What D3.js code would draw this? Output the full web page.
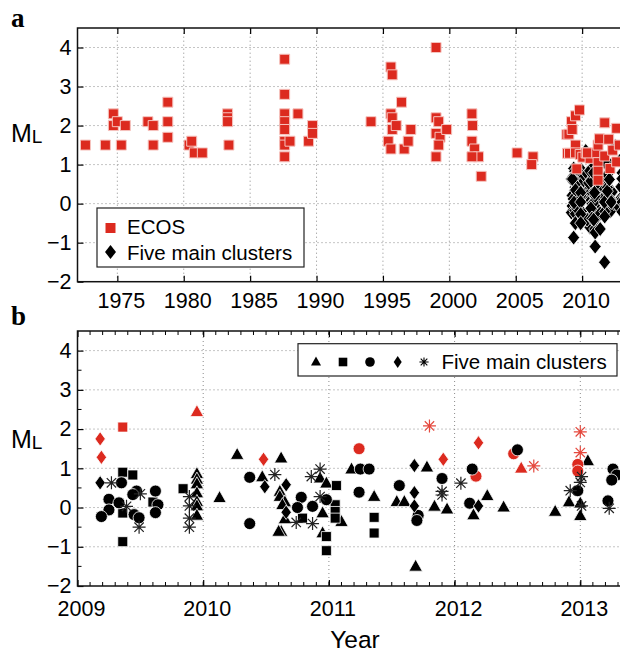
<!DOCTYPE html>
<html><head><meta charset="utf-8">
<script src="https://cdn.jsdelivr.net/npm/d3@7"></script>
<style>body{margin:0;background:#fff}svg{display:block}text{font-family:"Liberation Sans",Arial,Helvetica,sans-serif;fill:#000}</style>
</head><body>
<svg id="c" width="620" height="653"></svg>
<script>
// ---------- DATA ----------
// Panel a: ECOS catalogue events [year, ML]
const ecos = [
[1972.6,1.5],[1974.1,1.5],[1974.7,2.3],[1974.7,2.0],[1975.0,2.1],[1975.3,1.5],[1975.6,2.0],
[1977.3,2.1],[1977.7,2.0],[1977.7,1.5],[1978.8,2.6],[1978.8,2.1],[1978.8,1.7],
[1980.4,1.5],[1980.6,1.6],[1980.8,1.3],[1981.4,1.3],[1983.3,2.3],[1983.3,2.2],[1983.3,2.1],[1983.4,1.5],
[1987.6,3.7],[1987.6,2.8],[1987.6,2.3],[1987.6,2.1],[1987.6,1.9],[1987.6,1.6],[1987.6,1.5],[1987.6,1.2],
[1988.0,1.6],[1988.6,2.3],[1989.4,1.6],[1989.7,2.0],[1989.7,1.8],
[1994.1,2.1],[1995.6,3.5],[1995.7,3.3],[1995.6,2.3],[1995.7,2.2],[1995.7,1.9],[1996.0,2.0],[1996.4,2.6],
[1995.4,1.6],[1995.6,1.4],[1996.6,1.4],[1996.9,1.6],[1997.1,1.9],
[1999.0,4.0],[1999.0,2.2],[1999.2,2.1],[1999.0,1.8],[1999.3,1.7],[1999.2,1.5],[1999.0,1.2],[1999.8,1.9],
[2001.7,2.3],[2001.75,2.0],[2001.7,1.6],[2001.9,1.4],[2002.2,1.2],[2001.7,1.2],[2002.4,0.7],
[2005.1,1.3],[2006.3,1.2],[2006.2,1.0],
[2008.85,1.77],[2008.9,1.29],[2009.0,1.78],[2009.2,2.1],[2009.25,1.9],[2009.5,2.25],[2009.8,2.4],
[2009.5,1.5],[2009.05,1.29],[2009.5,1.3],[2009.6,0.89],[2009.85,1.26],[2010.05,1.19],[2010.3,1.3],
[2010.6,1.16],[2010.4,1.3],[2011.1,1.3],[2011.2,1.5],[2011.2,1.05],[2011.2,0.83],[2011.2,0.6],
[2011.3,1.66],[2012.0,1.65],[2011.7,2.07],[2011.7,1.22],[2012.3,1.37],[2012.1,0.9],[2012.6,1.07],[2012.6,1.93],[2012.8,1.5]
];
// Panel b: five main clusters [year, ML, inECOS(1=red)]
const triangles = [
[2009.95,2.44,1],[2009.95,0.86,0],[2009.95,0.72,0],[2009.95,0.6,0],[2009.95,0.37,0],[2009.95,0.15,0],[2009.95,0.04,0],[2009.95,-0.2,0],
[2010.13,0.25,0],[2010.27,1.35,0],[2010.62,1.26,0],[2010.47,0.78,0],
[2010.61,0.41,0],[2010.61,0.28,0],[2010.65,0.14,0],[2010.63,0.07,0],[2010.65,-0.29,0],[2010.62,-0.61,0],[2010.6,-0.61,0],
[2010.93,0.75,0],[2010.98,0.62,0],[2010.95,-0.14,0],[2011.1,-0.36,0],[2010.95,-0.65,0],
[2011.18,0.98,0],[2011.36,0.28,0],[2011.54,0.15,0],[2011.6,0.15,0],[2011.78,1.03,0],[2011.69,-1.5,0],
[2011.84,0.03,0],[2011.94,-0.04,0],[2012.15,-0.19,0],[2012.26,0.3,0],[2012.39,0.01,0],[2012.53,1.0,1],
[2012.8,-0.1,0],[2012.91,0.14,0],[2013.06,1.19,0],[2013.0,0.11,0],[2013.0,-0.21,0]
];
const squares = [
[2009.36,2.05,1],[2009.36,0.9,0],[2009.44,0.83,0],[2009.6,0.14,0],[2009.36,-0.14,0],[2009.36,-0.87,0],[2009.84,0.48,0],
[2010.79,-0.27,0],[2011.06,0.56,0],[2011.05,0.07,0],[2011.05,-0.1,0],[2011.05,-0.27,0],[2010.98,-0.74,0],[2010.98,-1.1,0],
[2011.36,-0.25,0],[2011.36,-0.65,0]
];
const circles = [
[2009.35,0.63,0],[2009.47,0.42,0],[2009.44,0.33,0],[2009.62,0.42,0],[2009.25,0.21,0],[2009.33,0.12,0],[2009.64,0.07,0],
[2009.25,-0.06,0],[2009.19,-0.23,0],[2009.45,-0.18,0],[2009.49,-0.26,0],[2009.62,-0.13,0],
[2010.37,0.77,0],[2010.37,-0.41,0],[2010.78,0.26,0],[2010.75,0.0,0],[2010.87,0.03,0],[2010.98,0.2,0],
[2011.24,1.5,1],[2011.25,0.98,0],[2011.32,0.98,0],[2011.24,0.39,0],[2011.56,0.56,0],[2011.71,-0.2,0],[2011.7,-0.33,0],
[2011.9,0.74,0],[2012.17,0.8,1],[2012.14,0.98,0],[2012.12,0.11,0],[2012.47,1.37,1],[2012.5,1.47,0],
[2012.98,1.1,1],[2012.98,0.93,1],[2012.98,0.43,0],[2013.26,0.98,0],[2013.29,0.83,0],[2013.25,0.7,0],[2013.22,0.17,0]
];
const diamonds = [
[2009.18,1.75,1],[2009.19,1.28,1],[2009.18,0.63,0],[2010.48,1.23,1],[2010.49,0.53,0],[2010.66,0.58,0],[2010.66,-0.12,0],
[2011.68,1.07,0],[2011.68,0.38,0],[2011.68,0.04,0],[2011.91,1.23,1],[2012.19,1.65,1],[2012.19,0.04,0]
];
const asterisks = [
[2009.27,0.63,0],[2009.5,0.35,0],[2009.39,0.03,0],[2009.49,-0.5,0],
[2009.89,0.28,0],[2009.89,0.04,0],[2009.89,-0.27,0],[2009.89,-0.5,0],
[2010.57,0.84,0],[2010.74,-0.38,0],[2010.93,0.98,0],[2010.86,0.79,0],[2010.93,0.28,0],[2010.87,-0.41,0],
[2011.8,2.08,1],[2011.9,0.41,0],[2011.9,0.32,0],[2012.05,0.62,0],[2012.63,1.06,1],[2012.92,0.43,0],
[2013.0,1.93,1],[2013.0,1.4,1],[2013.01,0.79,0],[2013.0,0.64,0],[2013.01,0.04,0],[2013.23,-0.02,0]
];
const yearTicksA = [1975,1980,1985,1990,1995,2000,2005,2010];
const yearTicksB = [2009,2010,2011,2012,2013];
const mlTicks = [-2,-1,0,1,2,3,4];

// ---------- DRAW ----------
const RED = "#dc2a1f";
const TICKFS = 21.5;
const svg = d3.select("#c");

const xA = d3.scaleLinear([1972, 2014], [77.5, 77.5 + 42 * 13.28]);
const yA = d3.scaleLinear([-2, 4.5], [281.7, 28]);
const xB = d3.scaleLinear([2009, 2013.5], [77.5, 77.5 + 4.5 * 125.7]);
const yB = d3.scaleLinear([-2, 4.5], [586, 331]);

function grid(g, x, y, xt, yt) {
  const [y0, y1] = y.range(), [x0, x1] = x.range();
  g.selectAll("line.gx").data(xt).join("line").attr("x1", d => x(d)).attr("x2", d => x(d))
    .attr("y1", y0).attr("y2", y1);
  g.selectAll("line.gy").data(yt.filter(d => d > y.domain()[0])).join("line").attr("class","gy")
    .attr("x1", x0).attr("x2", x1).attr("y1", d => y(d)).attr("y2", d => y(d));
  g.selectAll("line").attr("stroke", "#8a8a8a").attr("stroke-width", 1).attr("stroke-dasharray", "1,3");
}

function axes(g, x, y, xt, yt, pad, xminor, yminor) {
  const [y0, y1] = y.range(), [x0, x1] = x.range();
  const bx = g.append("g").attr("transform", `translate(0,${y0})`)
    .call(d3.axisBottom(x).tickValues(xt).tickFormat(d3.format("d")).tickSize(-6).tickPadding(pad));
  bx.selectAll("text").attr("font-size", TICKFS).attr("dx", 3.5);
  const tx = g.append("g").attr("transform", `translate(0,${y1})`)
    .call(d3.axisTop(x).tickValues(xt).tickFormat("").tickSize(-6));
  const ly = g.append("g").attr("transform", `translate(${x0},0)`)
    .call(d3.axisLeft(y).tickValues(yt).tickFormat(d => d < 0 ? "\u2212" + Math.abs(d) : d).tickSize(-6).tickPadding(6));
  ly.selectAll("text").attr("font-size", TICKFS);
  [bx, tx, ly].forEach(a => { a.select(".domain").remove(); a.selectAll("line").attr("stroke", "#000").attr("stroke-width", 1.2); a.attr("font-family", null); });
  if (xminor) {
    g.selectAll("line.mxb").data(xminor).join("line").attr("class","mxb")
      .attr("x1", d => x(d)).attr("x2", d => x(d)).attr("y1", y0).attr("y2", y0 - 4);
    g.selectAll("line.mxt").data(xminor).join("line").attr("class","mxt")
      .attr("x1", d => x(d)).attr("x2", d => x(d)).attr("y1", y1).attr("y2", y1 + 4);
  }
  if (yminor) {
    g.selectAll("line.my").data(yminor).join("line").attr("class","my")
      .attr("x1", x0).attr("x2", x0 + 4).attr("y1", d => y(d)).attr("y2", d => y(d));
  }
  g.selectAll("line.mxb,line.mxt,line.my").attr("stroke", "#000").attr("stroke-width", 1);
  g.append("rect").attr("x", x0).attr("y", y1).attr("width", x1 - x0).attr("height", y0 - y1)
    .attr("fill", "none").attr("stroke", "#111").attr("stroke-width", 1.5);
}

const sq = s => `M${-s},${-s}h${2*s}v${2*s}h${-2*s}Z`;
const dia = (w, h) => `M0,${-h}L${w},0L0,${h}L${-w},0Z`;
const tri = (w, h) => `M0,${-h*0.6}L${w/2},${h*0.4}L${-w/2},${h*0.4}Z`;
const ast = r => { const d = r * 0.72; return `M0,${-r}V${r}M${-r},0H${r}M${-d},${-d}L${d},${d}M${-d},${d}L${d},${-d}`; };

// ----- Panel a -----
const ga = svg.append("g");
grid(ga.append("g"), xA, yA, yearTicksA, mlTicks);
svg.append("clipPath").attr("id", "ca").append("rect")
  .attr("x", 77.5).attr("y", 28).attr("width", 600).attr("height", 253.7);
const ptsA = ga.append("g").attr("clip-path", "url(#ca)");
const allClusters = [].concat(triangles, squares, circles, diamonds, asterisks).filter(d => !d[2]);
ptsA.selectAll("path.d").data(allClusters).join("path").attr("class", "d")
  .attr("d", dia(6, 7.5)).attr("transform", d => `translate(${xA(d[0])},${yA(d[1])})`)
  .attr("fill", "#000").attr("stroke", "#fff").attr("stroke-width", 0.8);
ptsA.selectAll("path.e").data(ecos).join("path").attr("class", "e")
  .attr("d", sq(5)).attr("transform", d => `translate(${xA(d[0])},${yA(d[1])})`)
  .attr("fill", RED).attr("stroke", "#f6c4bf").attr("stroke-width", 1);
axes(ga, xA, yA, yearTicksA, mlTicks, 11, null, null);

// legend a
const la = ga.append("g");
la.append("rect").attr("x", 97).attr("y", 208).attr("width", 207).attr("height", 59)
  .attr("fill", "#fff").attr("stroke", "#222").attr("stroke-width", 1.2);
la.append("path").attr("d", sq(5)).attr("transform", "translate(110.5,228)").attr("fill", RED);
la.append("path").attr("d", dia(5.5, 7)).attr("transform", "translate(110.5,252)").attr("fill", "#000");
la.append("text").attr("x", 127).attr("y", 234).attr("font-size", 20.5).text("ECOS");
la.append("text").attr("x", 127).attr("y", 259.5).attr("font-size", 20.5).text("Five main clusters");

// ----- Panel b -----
const gb = svg.append("g");
grid(gb.append("g"), xB, yB, yearTicksB, mlTicks);
svg.append("clipPath").attr("id", "cb").append("rect")
  .attr("x", 77.5).attr("y", 331).attr("width", 600).attr("height", 255);
const ptsB = gb.append("g").attr("clip-path", "url(#cb)");
const col = d => d[2] ? RED : "#000";
const tf = d => `translate(${xB(d[0])},${yB(d[1])})`;
ptsB.selectAll("path.t").data(triangles).join("path").attr("class","t")
  .attr("d", tri(13.5, 12)).attr("transform", tf).attr("fill", col).attr("stroke", "#fff").attr("stroke-width", 0.8);
ptsB.selectAll("path.s").data(squares).join("path").attr("class","s")
  .attr("d", sq(5)).attr("transform", tf).attr("fill", col).attr("stroke", "#fff").attr("stroke-width", 0.8);
ptsB.selectAll("circle").data(circles).join("circle")
  .attr("cx", d => xB(d[0])).attr("cy", d => yB(d[1])).attr("r", 6)
  .attr("fill", col).attr("stroke", "#fff").attr("stroke-width", 0.8);
ptsB.selectAll("path.dm").data(diamonds).join("path").attr("class","dm")
  .attr("d", dia(5.2, 7.2)).attr("transform", tf).attr("fill", col).attr("stroke", "#fff").attr("stroke-width", 0.8);
ptsB.selectAll("path.a").data(asterisks).join("path").attr("class","a")
  .attr("d", ast(6.5)).attr("transform", tf).attr("fill", "none")
  .attr("stroke", d => d[2] ? "#e5493e" : "#222").attr("stroke-width", 1.2);
axes(gb, xB, yB, yearTicksB, mlTicks, 15, d3.range(0, 46).map(i => 2009 + i / 10), d3.range(-1.5, 4.5, 1));

// legend b
const lb = gb.append("g");
lb.append("rect").attr("x", 298).attr("y", 343.7).attr("width", 319).attr("height", 32.3)
  .attr("fill", "#fff").attr("stroke", "#222").attr("stroke-width", 1.2);
lb.append("path").attr("d", tri(10, 9)).attr("transform", "translate(316,362)").attr("fill", "#000");
lb.append("path").attr("d", sq(4.3)).attr("transform", "translate(343,362)").attr("fill", "#000");
lb.append("circle").attr("cx", 370).attr("cy", 362).attr("r", 4.8).attr("fill", "#000");
lb.append("path").attr("d", dia(4, 6)).attr("transform", "translate(397.7,362)").attr("fill", "#000");
lb.append("path").attr("d", ast(4.6)).attr("transform", "translate(424,362)").attr("stroke", "#000").attr("stroke-width", 1.1).attr("fill", "none");
lb.append("text").attr("x", 441.5).attr("y", 368.5).attr("font-size", 20.5).text("Five main clusters");

// ----- Labels -----
function mlLabel(y) {
  const t = svg.append("text").attr("x", 11).attr("y", y).attr("font-size", 25);
  t.append("tspan").text("M");
  t.append("tspan").attr("font-size", 19).attr("dy", 1).text("L");
}
mlLabel(141.7);
mlLabel(448);
svg.append("text").attr("x", 11).attr("y", 26.5).attr("font-size", 27).attr("font-weight", "bold")
  .style("font-family", "'Liberation Serif','Times New Roman',serif").text("a");
svg.append("text").attr("x", 11).attr("y", 325).attr("font-size", 27).attr("font-weight", "bold")
  .style("font-family", "'Liberation Serif','Times New Roman',serif").text("b");
svg.append("text").attr("x", 355).attr("y", 648).attr("font-size", 24.5).attr("text-anchor", "middle").text("Year");
</script>
</body></html>
